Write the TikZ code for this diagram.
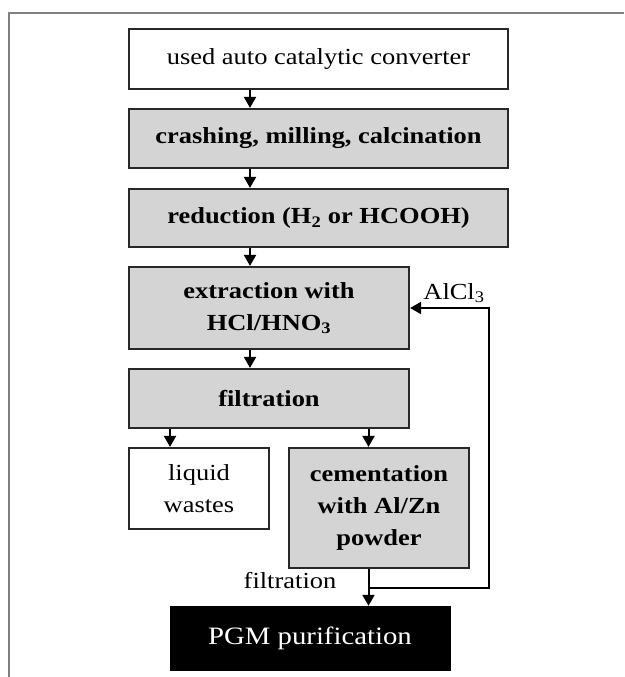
\documentclass[tikz,border=0pt]{standalone}
\usepackage{fontspec}
\setmainfont[FakeStretch=1.15]{Liberation Serif}
\usetikzlibrary{arrows.meta}
\definecolor{boxgray}{RGB}{212,212,212}
\definecolor{edge}{RGB}{40,40,40}
\definecolor{framegray}{RGB}{128,128,128}
\tikzset{
  flowbox/.style={draw=edge, line width=2.2pt, rectangle, inner sep=0pt, align=center,
    font=\fontsize{23}{32}\selectfont},
  graybox/.style={flowbox, fill=boxgray},
  whitebox/.style={flowbox, fill=white},
  arr/.style={draw=black, line width=2pt, -{Triangle[width=12pt,length=11pt]}},
  lbl/.style={inner sep=0pt, font=\fontsize{23}{26}\selectfont}
}
\begin{document}
\begin{tikzpicture}[x=1pt,y=-1pt]
\useasboundingbox (0,0) rectangle (624,677);
\draw[framegray, line width=1.5pt] (9,677) -- (9,13) -- (624,13);
\node[whitebox, minimum width=379pt, minimum height=60pt] (b1) at (318.5,59) {used auto catalytic converter};
\node[graybox, minimum width=379pt, minimum height=59pt] (b2) at (318.5,138.5) {\textbf{crashing, milling, calcination}};
\node[graybox, minimum width=379pt, minimum height=58pt] (b3) at (318.5,218) {\textbf{reduction (H\textsubscript{2} or HCOOH)}};
\node[graybox, minimum width=280pt, minimum height=82pt] (b4) at (269,308) {\textbf{extraction with}\\\textbf{HCl/HNO\textsubscript{3}}};
\node[graybox, minimum width=280pt, minimum height=59pt] (b5) at (269,398.5) {\textbf{filtration}};
\node[whitebox, minimum width=140pt, minimum height=81pt] (liq) at (199,488.5) {liquid\\wastes};
\node[graybox, minimum width=180pt, minimum height=120pt] (cem) at (379,508) {\textbf{cementation}\\\textbf{with Al/Zn}\\\textbf{powder}};
\node[draw=black, fill=black, text=white, rectangle, inner sep=0pt, minimum width=280pt, minimum height=64pt,
  font=\fontsize{25}{30}\selectfont] (pgm) at (310,638) {PGM purification};
\coordinate (a1) at (250,0);
\coordinate (a2) at (170,0);
\coordinate (a3) at (368.5,0);
\coordinate (fb) at (489,0);
\coordinate (j) at (368.5,588);
\draw[arr] (b1.south -| a1) -- (b2.north -| a1);
\draw[arr] (b2.south -| a1) -- (b3.north -| a1);
\draw[arr] (b3.south -| a1) -- (b4.north -| a1);
\draw[arr] (b4.south -| a1) -- (b5.north -| a1);
\draw[arr] (b5.south -| a2) -- (liq.north -| a2);
\draw[arr] (b5.south -| a3) -- (cem.north -| a3);
\draw[arr] (cem.south -| a3) -- (pgm.north -| a3);
\draw[arr] (j) -| (fb |- b4.east) -- (b4.east);
\node[lbl] (alcl) at (454,293) {AlCl\textsubscript{3}};
\node[lbl] (filt) at (290,581) {filtration};
\end{tikzpicture}
\end{document}
